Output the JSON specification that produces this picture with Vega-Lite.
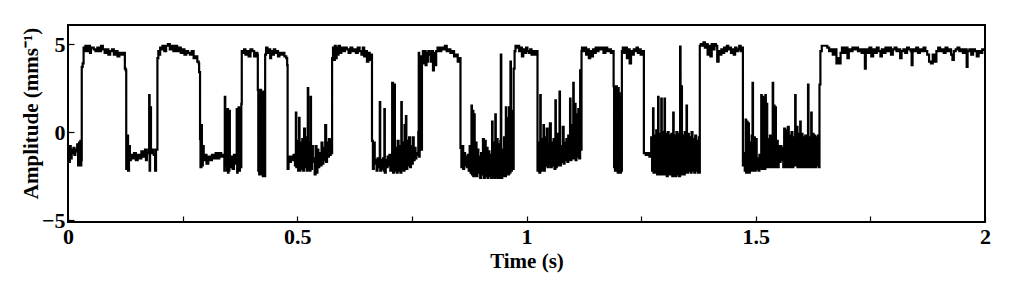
{
  "$schema": "https://vega.github.io/schema/vega-lite/v6.json",
  "width": 917,
  "height": 197,
  "autosize": "none",
  "padding": {"left": 68, "top": 25, "right": 39, "bottom": 59},
  "background": "white",
  "config": {
    "view": {"stroke": "black", "strokeWidth": 2},
    "axis": {
      "labelFont": "Liberation Serif", "labelFontWeight": "bold", "labelFontSize": 22, "labelColor": "black",
      "titleFont": "Liberation Serif", "titleFontWeight": "bold", "titleFontSize": 21, "titleColor": "black",
      "tickColor": "black", "tickWidth": 1.2, "domain": false, "grid": false
    }
  },
  "data": {"values": [
    {"t":0.000,"a":-0.9},{"t":0.002,"a":-1.7},{"t":0.004,"a":-0.8},{"t":0.006,"a":-1.5},{"t":0.008,"a":-1.0},{"t":0.010,"a":-1.2},{"t":0.012,"a":-0.9},{"t":0.014,"a":-1.3},{"t":0.016,"a":-1.0},{"t":0.018,"a":-1.1},{"t":0.020,"a":-0.7},{"t":0.022,"a":-1.9},{"t":0.024,"a":-0.6},{"t":0.026,"a":-1.1},{"t":0.027,"a":-0.5},{"t":0.028,"a":-1.9},{"t":0.029,"a":-1.6},
    {"t":0.030,"a":3.7},{"t":0.032,"a":3.9},{"t":0.034,"a":4.8},{"t":0.036,"a":4.6},{"t":0.038,"a":4.9},{"t":0.042,"a":4.6},{"t":0.044,"a":4.9},{"t":0.048,"a":4.5},{"t":0.050,"a":4.8},{"t":0.056,"a":4.7},{"t":0.060,"a":4.6},{"t":0.064,"a":4.8},{"t":0.068,"a":4.6},{"t":0.072,"a":4.9},{"t":0.076,"a":4.7},{"t":0.080,"a":4.5},{"t":0.084,"a":4.7},{"t":0.088,"a":4.4},{"t":0.092,"a":4.6},{"t":0.096,"a":4.7},{"t":0.100,"a":4.4},{"t":0.104,"a":4.6},{"t":0.108,"a":4.3},{"t":0.112,"a":4.5},{"t":0.116,"a":4.4},{"t":0.120,"a":4.5},{"t":0.124,"a":3.6},{"t":0.126,"a":3.5},
    {"t":0.127,"a":-2.1},{"t":0.129,"a":-0.2},{"t":0.131,"a":-2.2},{"t":0.133,"a":-0.8},{"t":0.135,"a":-1.6},{"t":0.137,"a":-1.3},{"t":0.140,"a":-1.5},{"t":0.144,"a":-1.2},{"t":0.148,"a":-1.6},{"t":0.152,"a":-1.3},{"t":0.156,"a":-1.5},{"t":0.160,"a":-1.1},{"t":0.164,"a":-1.4},{"t":0.168,"a":-1.0},{"t":0.170,"a":-1.6},{"t":0.172,"a":-1.2},{"t":0.175,"a":-1.0},{"t":0.177,"a":2.1},{"t":0.178,"a":-2.2},{"t":0.179,"a":1.4},{"t":0.181,"a":-1.2},{"t":0.184,"a":-1.0},{"t":0.187,"a":-1.3},{"t":0.190,"a":-2.2},{"t":0.192,"a":-1.0},
    {"t":0.195,"a":4.2},{"t":0.197,"a":4.6},{"t":0.199,"a":4.4},{"t":0.201,"a":4.8},{"t":0.203,"a":4.7},{"t":0.206,"a":4.9},{"t":0.210,"a":4.6},{"t":0.214,"a":4.9},{"t":0.218,"a":5.0},{"t":0.222,"a":4.7},{"t":0.226,"a":4.9},{"t":0.230,"a":4.6},{"t":0.234,"a":4.9},{"t":0.238,"a":4.6},{"t":0.242,"a":4.8},{"t":0.246,"a":4.5},{"t":0.250,"a":4.7},{"t":0.254,"a":4.4},{"t":0.258,"a":4.6},{"t":0.262,"a":4.5},{"t":0.266,"a":4.4},{"t":0.270,"a":4.6},{"t":0.274,"a":4.2},{"t":0.278,"a":4.3},{"t":0.282,"a":4.0},{"t":0.285,"a":3.9},{"t":0.286,"a":3.4},
    {"t":0.288,"a":-0.4},{"t":0.289,"a":-2.0},{"t":0.291,"a":0.4},{"t":0.292,"a":-1.9},{"t":0.294,"a":-0.8},{"t":0.296,"a":-1.6},{"t":0.298,"a":-1.3},{"t":0.302,"a":-1.8},{"t":0.306,"a":-1.4},{"t":0.310,"a":-1.6},{"t":0.314,"a":-1.3},{"t":0.318,"a":-1.5},{"t":0.322,"a":-1.2},{"t":0.326,"a":-1.5},{"t":0.330,"a":-1.2},{"t":0.334,"a":-1.4},{"t":0.338,"a":-1.3},{"t":0.341,"a":-2.2},{"t":0.342,"a":2.0},{"t":0.343,"a":-1.9},{"t":0.346,"a":1.2},{"t":0.347,"a":-2.2},{"t":0.348,"a":1.3},{"t":0.349,"a":-2.3},{"t":0.350,"a":1.0},{"t":0.351,"a":-2.2},{"t":0.352,"a":1.2},{"t":0.353,"a":-2.0},{"t":0.356,"a":-1.4},{"t":0.359,"a":-2.1},{"t":0.362,"a":-1.3},{"t":0.365,"a":-1.8},{"t":0.368,"a":1.3},{"t":0.369,"a":-2.3},{"t":0.370,"a":1.0},{"t":0.371,"a":-2.2},{"t":0.372,"a":1.4},{"t":0.373,"a":-2.2},{"t":0.375,"a":1.3},{"t":0.376,"a":-2.0},{"t":0.378,"a":1.6},
    {"t":0.379,"a":4.6},{"t":0.381,"a":4.5},{"t":0.384,"a":4.7},{"t":0.387,"a":4.4},{"t":0.390,"a":4.6},{"t":0.394,"a":4.3},{"t":0.398,"a":4.7},{"t":0.402,"a":4.6},{"t":0.406,"a":4.3},{"t":0.410,"a":4.5},{"t":0.413,"a":4.4},
    {"t":0.414,"a":2.4},{"t":0.415,"a":-2.2},{"t":0.416,"a":2.3},{"t":0.417,"a":-2.4},{"t":0.418,"a":2.2},{"t":0.419,"a":-2.3},{"t":0.420,"a":2.4},{"t":0.421,"a":-2.2},{"t":0.422,"a":2.2},{"t":0.423,"a":-2.4},{"t":0.424,"a":2.0},{"t":0.425,"a":-2.5},{"t":0.426,"a":2.3},{"t":0.427,"a":-2.4},{"t":0.428,"a":1.5},{"t":0.429,"a":-2.5},
    {"t":0.430,"a":4.4},{"t":0.432,"a":4.8},{"t":0.435,"a":4.5},{"t":0.438,"a":4.7},{"t":0.441,"a":4.2},{"t":0.443,"a":4.6},{"t":0.446,"a":4.4},{"t":0.449,"a":4.7},{"t":0.452,"a":4.5},{"t":0.455,"a":4.6},{"t":0.458,"a":4.3},{"t":0.461,"a":4.5},{"t":0.464,"a":4.4},{"t":0.468,"a":4.5},{"t":0.472,"a":4.3},{"t":0.476,"a":4.2},{"t":0.478,"a":3.8},
    {"t":0.479,"a":-2.1},{"t":0.481,"a":-1.4},{"t":0.483,"a":-1.7},{"t":0.486,"a":-1.4},{"t":0.489,"a":-1.6},{"t":0.492,"a":-1.3},{"t":0.495,"a":-1.9},{"t":0.497,"a":1.1},{"t":0.498,"a":-2.0},{"t":0.500,"a":-0.5},{"t":0.502,"a":-2.2},{"t":0.504,"a":0.8},{"t":0.505,"a":-2.2},{"t":0.507,"a":-0.6},{"t":0.509,"a":-2.1},{"t":0.511,"a":-0.4},{"t":0.513,"a":-2.2},{"t":0.515,"a":0.2},{"t":0.517,"a":-2.0},{"t":0.519,"a":-0.3},{"t":0.521,"a":-2.2},{"t":0.523,"a":2.5},{"t":0.524,"a":-2.1},{"t":0.526,"a":-0.6},{"t":0.528,"a":-2.2},{"t":0.529,"a":2.0},{"t":0.530,"a":-2.1},{"t":0.532,"a":-0.8},{"t":0.534,"a":-1.7},{"t":0.536,"a":-1.5},{"t":0.538,"a":-2.4},{"t":0.540,"a":-0.8},{"t":0.542,"a":-2.3},{"t":0.544,"a":-1.0},{"t":0.546,"a":-2.0},{"t":0.548,"a":-1.2},{"t":0.550,"a":-1.9},{"t":0.553,"a":-0.6},{"t":0.555,"a":-1.8},{"t":0.557,"a":-0.9},{"t":0.559,"a":-1.6},{"t":0.561,"a":0.4},{"t":0.563,"a":-1.7},{"t":0.565,"a":-0.6},{"t":0.567,"a":-1.4},{"t":0.569,"a":-0.4},{"t":0.571,"a":-1.3},{"t":0.573,"a":-0.5},{"t":0.575,"a":-1.2},
    {"t":0.576,"a":4.2},{"t":0.578,"a":4.8},{"t":0.580,"a":4.1},{"t":0.582,"a":4.9},{"t":0.584,"a":4.2},{"t":0.586,"a":4.8},{"t":0.588,"a":4.4},{"t":0.590,"a":4.9},{"t":0.593,"a":4.5},{"t":0.596,"a":4.8},{"t":0.600,"a":4.6},{"t":0.604,"a":4.8},{"t":0.608,"a":4.7},{"t":0.612,"a":4.5},{"t":0.616,"a":4.8},{"t":0.620,"a":4.6},{"t":0.624,"a":4.7},{"t":0.628,"a":4.5},{"t":0.632,"a":4.8},{"t":0.636,"a":4.6},{"t":0.640,"a":4.4},{"t":0.643,"a":4.8},{"t":0.646,"a":4.3},{"t":0.649,"a":4.6},{"t":0.652,"a":4.0},{"t":0.655,"a":4.5},{"t":0.658,"a":4.1},{"t":0.661,"a":4.4},
    {"t":0.663,"a":-0.5},{"t":0.665,"a":-2.1},{"t":0.667,"a":-0.6},{"t":0.669,"a":-1.8},{"t":0.671,"a":-1.6},{"t":0.673,"a":-2.2},{"t":0.675,"a":-1.5},{"t":0.677,"a":-2.0},{"t":0.679,"a":-1.7},{"t":0.680,"a":1.7},{"t":0.681,"a":-2.2},{"t":0.683,"a":-1.6},{"t":0.685,"a":-2.1},{"t":0.687,"a":-1.5},{"t":0.689,"a":-2.2},{"t":0.690,"a":1.3},{"t":0.691,"a":-2.3},{"t":0.693,"a":-1.6},{"t":0.695,"a":-2.0},{"t":0.697,"a":-1.4},{"t":0.699,"a":-1.9},{"t":0.701,"a":-1.3},{"t":0.703,"a":-2.2},{"t":0.705,"a":-1.5},{"t":0.707,"a":2.8},{"t":0.709,"a":-2.3},{"t":0.711,"a":2.7},{"t":0.713,"a":-2.2},{"t":0.715,"a":-0.9},{"t":0.717,"a":-2.3},{"t":0.719,"a":-0.5},{"t":0.721,"a":-2.2},{"t":0.723,"a":-0.8},{"t":0.725,"a":-2.3},{"t":0.727,"a":1.7},{"t":0.728,"a":-2.1},{"t":0.730,"a":-0.6},{"t":0.732,"a":-2.2},{"t":0.734,"a":0.4},{"t":0.735,"a":-2.0},{"t":0.737,"a":0.9},{"t":0.738,"a":-2.1},{"t":0.740,"a":-0.5},{"t":0.742,"a":-1.9},{"t":0.744,"a":-0.3},{"t":0.746,"a":-2.0},{"t":0.748,"a":-0.8},{"t":0.750,"a":-1.8},{"t":0.752,"a":-0.3},{"t":0.754,"a":-1.6},{"t":0.756,"a":-0.9},{"t":0.758,"a":-1.5},{"t":0.760,"a":-1.2},{"t":0.762,"a":-1.3},{"t":0.764,"a":0.0},{"t":0.765,"a":4.5},{"t":0.766,"a":-1.4},{"t":0.767,"a":-0.3},{"t":0.768,"a":-1.0},{"t":0.769,"a":4.3},{"t":0.770,"a":-1.0},
    {"t":0.772,"a":4.2},{"t":0.774,"a":4.6},{"t":0.776,"a":3.9},{"t":0.778,"a":4.6},{"t":0.780,"a":3.8},{"t":0.782,"a":4.5},{"t":0.784,"a":4.0},{"t":0.786,"a":4.6},{"t":0.789,"a":4.4},{"t":0.792,"a":4.0},{"t":0.794,"a":4.6},{"t":0.796,"a":3.5},{"t":0.798,"a":4.5},{"t":0.800,"a":3.8},{"t":0.803,"a":4.6},{"t":0.806,"a":4.8},{"t":0.810,"a":4.6},{"t":0.814,"a":4.8},{"t":0.818,"a":4.7},{"t":0.822,"a":4.9},{"t":0.826,"a":4.6},{"t":0.830,"a":4.7},{"t":0.834,"a":4.5},{"t":0.838,"a":4.6},{"t":0.842,"a":4.3},{"t":0.846,"a":4.4},{"t":0.850,"a":4.0},{"t":0.853,"a":4.2},
    {"t":0.856,"a":-0.9},{"t":0.858,"a":-2.0},{"t":0.860,"a":-0.8},{"t":0.862,"a":-2.1},{"t":0.864,"a":-1.2},{"t":0.866,"a":-1.9},{"t":0.868,"a":-1.4},{"t":0.870,"a":-2.0},{"t":0.872,"a":-1.3},{"t":0.874,"a":-2.2},{"t":0.876,"a":-0.8},{"t":0.878,"a":-2.3},{"t":0.880,"a":1.5},{"t":0.881,"a":-2.4},{"t":0.883,"a":1.2},{"t":0.884,"a":-2.5},{"t":0.886,"a":1.0},{"t":0.887,"a":-2.4},{"t":0.889,"a":-0.6},{"t":0.891,"a":-2.5},{"t":0.893,"a":-1.0},{"t":0.895,"a":-2.3},{"t":0.897,"a":-1.4},{"t":0.899,"a":-2.6},{"t":0.901,"a":-1.2},{"t":0.903,"a":-2.4},{"t":0.905,"a":-0.4},{"t":0.907,"a":-2.6},{"t":0.909,"a":-0.5},{"t":0.911,"a":-2.5},{"t":0.913,"a":-0.9},{"t":0.915,"a":-2.6},{"t":0.917,"a":-1.1},{"t":0.919,"a":-2.5},{"t":0.921,"a":-1.3},{"t":0.923,"a":-2.6},{"t":0.925,"a":0.6},{"t":0.926,"a":-2.5},{"t":0.928,"a":-0.6},{"t":0.930,"a":-2.6},{"t":0.932,"a":1.0},{"t":0.933,"a":-2.5},{"t":0.935,"a":-0.4},{"t":0.937,"a":-2.6},{"t":0.939,"a":-0.7},{"t":0.941,"a":-2.6},{"t":0.943,"a":-0.5},{"t":0.944,"a":4.4},{"t":0.945,"a":-2.6},{"t":0.947,"a":-1.0},{"t":0.949,"a":-2.5},{"t":0.951,"a":-0.3},{"t":0.953,"a":-2.5},{"t":0.955,"a":1.4},{"t":0.956,"a":-2.4},{"t":0.958,"a":0.8},{"t":0.960,"a":-2.4},{"t":0.962,"a":1.4},{"t":0.963,"a":-2.3},{"t":0.965,"a":4.0},{"t":0.966,"a":-2.2},{"t":0.968,"a":1.2},{"t":0.970,"a":-2.1},{"t":0.972,"a":3.6},
    {"t":0.974,"a":4.6},{"t":0.976,"a":4.9},{"t":0.978,"a":4.8},{"t":0.981,"a":4.9},{"t":0.984,"a":4.6},{"t":0.987,"a":4.8},{"t":0.990,"a":4.3},{"t":0.993,"a":4.7},{"t":0.996,"a":4.5},{"t":0.999,"a":4.8},{"t":1.002,"a":4.6},{"t":1.005,"a":4.5},{"t":1.008,"a":4.7},{"t":1.011,"a":4.4},{"t":1.014,"a":4.6},{"t":1.018,"a":4.4},{"t":1.021,"a":4.6},
    {"t":1.024,"a":-2.2},{"t":1.026,"a":-0.6},{"t":1.028,"a":-2.3},{"t":1.030,"a":2.1},{"t":1.031,"a":-2.2},{"t":1.033,"a":-0.4},{"t":1.035,"a":-2.1},{"t":1.037,"a":0.4},{"t":1.038,"a":-2.2},{"t":1.040,"a":-0.3},{"t":1.042,"a":-1.9},{"t":1.044,"a":0.2},{"t":1.046,"a":-2.0},{"t":1.048,"a":-0.7},{"t":1.050,"a":-1.8},{"t":1.051,"a":0.5},{"t":1.053,"a":-2.0},{"t":1.055,"a":-0.6},{"t":1.057,"a":-1.9},{"t":1.059,"a":-0.4},{"t":1.061,"a":-2.1},{"t":1.063,"a":1.8},{"t":1.064,"a":-2.0},{"t":1.066,"a":-0.1},{"t":1.068,"a":-1.9},{"t":1.070,"a":-0.4},{"t":1.072,"a":2.3},{"t":1.073,"a":-1.9},{"t":1.075,"a":-0.8},{"t":1.077,"a":-1.7},{"t":1.079,"a":0.3},{"t":1.081,"a":-1.8},{"t":1.083,"a":-0.6},{"t":1.085,"a":-1.6},{"t":1.087,"a":-0.4},{"t":1.089,"a":-1.7},{"t":1.091,"a":-0.2},{"t":1.093,"a":-1.6},{"t":1.095,"a":1.9},{"t":1.096,"a":-1.6},{"t":1.098,"a":0.4},{"t":1.100,"a":-1.5},{"t":1.102,"a":2.8},{"t":1.103,"a":-1.5},{"t":1.105,"a":1.6},{"t":1.107,"a":-1.6},{"t":1.109,"a":1.0},{"t":1.111,"a":-1.4},{"t":1.113,"a":1.3},{"t":1.115,"a":-1.5},{"t":1.117,"a":3.5},{"t":1.118,"a":-1.0},
    {"t":1.120,"a":4.6},{"t":1.121,"a":4.8},{"t":1.124,"a":4.6},{"t":1.127,"a":4.8},{"t":1.130,"a":4.4},{"t":1.133,"a":4.7},{"t":1.136,"a":4.2},{"t":1.139,"a":4.6},{"t":1.142,"a":4.3},{"t":1.145,"a":4.7},{"t":1.148,"a":4.5},{"t":1.151,"a":4.8},{"t":1.154,"a":4.6},{"t":1.157,"a":4.8},{"t":1.160,"a":4.7},{"t":1.164,"a":4.8},{"t":1.168,"a":4.5},{"t":1.172,"a":4.8},{"t":1.176,"a":4.6},{"t":1.180,"a":4.7},{"t":1.184,"a":4.5},{"t":1.188,"a":4.6},
    {"t":1.190,"a":2.6},{"t":1.191,"a":-2.0},{"t":1.192,"a":2.6},{"t":1.193,"a":-2.2},{"t":1.194,"a":2.5},{"t":1.195,"a":-2.1},{"t":1.196,"a":2.6},{"t":1.197,"a":-2.2},{"t":1.198,"a":2.4},{"t":1.199,"a":-2.3},{"t":1.200,"a":2.5},{"t":1.201,"a":-2.3},{"t":1.202,"a":2.2},{"t":1.203,"a":-2.3},{"t":1.204,"a":2.0},{"t":1.205,"a":-2.3},{"t":1.206,"a":1.8},{"t":1.207,"a":-2.2},
    {"t":1.208,"a":4.6},{"t":1.210,"a":4.8},{"t":1.213,"a":4.5},{"t":1.216,"a":4.8},{"t":1.219,"a":4.2},{"t":1.222,"a":4.7},{"t":1.225,"a":3.9},{"t":1.228,"a":4.6},{"t":1.231,"a":4.4},{"t":1.234,"a":4.7},{"t":1.237,"a":4.6},{"t":1.240,"a":4.8},{"t":1.243,"a":4.5},{"t":1.246,"a":4.7},{"t":1.249,"a":4.4},{"t":1.252,"a":4.6},
    {"t":1.256,"a":-1.2},{"t":1.260,"a":-1.3},{"t":1.264,"a":-1.2},{"t":1.268,"a":-1.4},{"t":1.270,"a":-1.2},{"t":1.272,"a":-0.3},{"t":1.274,"a":-2.2},{"t":1.276,"a":1.35},{"t":1.277,"a":-2.3},{"t":1.279,"a":-0.2},{"t":1.281,"a":-2.3},{"t":1.283,"a":0.1},{"t":1.285,"a":-2.4},{"t":1.287,"a":2.0},{"t":1.288,"a":-2.4},{"t":1.290,"a":-0.1},{"t":1.292,"a":-2.4},{"t":1.294,"a":1.9},{"t":1.295,"a":-2.4},{"t":1.297,"a":0.0},{"t":1.299,"a":-2.4},{"t":1.301,"a":1.9},{"t":1.302,"a":-2.4},{"t":1.304,"a":-0.1},{"t":1.306,"a":-2.5},{"t":1.308,"a":0.0},{"t":1.310,"a":-2.4},{"t":1.312,"a":-0.2},{"t":1.314,"a":-2.4},{"t":1.316,"a":-0.1},{"t":1.318,"a":-2.5},{"t":1.320,"a":1.1},{"t":1.321,"a":-2.4},{"t":1.323,"a":-0.2},{"t":1.325,"a":-2.5},{"t":1.327,"a":0.0},{"t":1.329,"a":-2.4},{"t":1.331,"a":-0.1},{"t":1.333,"a":-2.5},{"t":1.335,"a":4.85},{"t":1.336,"a":-2.4},{"t":1.338,"a":2.6},{"t":1.339,"a":-2.3},{"t":1.341,"a":-0.2},{"t":1.343,"a":-2.4},{"t":1.345,"a":0.0},{"t":1.347,"a":-2.3},{"t":1.349,"a":1.5},{"t":1.350,"a":-2.3},{"t":1.352,"a":-0.1},{"t":1.354,"a":-2.2},{"t":1.356,"a":-0.3},{"t":1.358,"a":-2.3},{"t":1.360,"a":0.0},{"t":1.362,"a":-2.2},{"t":1.364,"a":-0.4},{"t":1.366,"a":-2.3},{"t":1.368,"a":-0.2},{"t":1.370,"a":-2.2},{"t":1.372,"a":-0.5},{"t":1.374,"a":-2.3},{"t":1.376,"a":-0.3},{"t":1.377,"a":-2.3},
    {"t":1.378,"a":4.9},{"t":1.380,"a":5.0},{"t":1.383,"a":4.9},{"t":1.386,"a":5.1},{"t":1.389,"a":4.8},{"t":1.392,"a":5.0},{"t":1.395,"a":4.4},{"t":1.398,"a":4.9},{"t":1.401,"a":4.3},{"t":1.404,"a":5.0},{"t":1.407,"a":4.7},{"t":1.410,"a":5.0},{"t":1.413,"a":4.9},{"t":1.416,"a":4.0},{"t":1.419,"a":4.6},{"t":1.422,"a":4.4},{"t":1.425,"a":4.7},{"t":1.428,"a":4.5},{"t":1.431,"a":4.8},{"t":1.434,"a":4.6},{"t":1.437,"a":4.9},{"t":1.440,"a":4.7},{"t":1.443,"a":4.8},{"t":1.446,"a":4.5},{"t":1.449,"a":4.7},{"t":1.452,"a":4.4},{"t":1.455,"a":4.8},{"t":1.458,"a":4.6},{"t":1.461,"a":4.7},{"t":1.464,"a":4.9},{"t":1.467,"a":4.6},{"t":1.470,"a":4.8},
    {"t":1.472,"a":-1.9},{"t":1.474,"a":-1.2},{"t":1.476,"a":-2.2},{"t":1.478,"a":0.7},{"t":1.479,"a":-2.3},{"t":1.481,"a":0.6},{"t":1.482,"a":-2.3},{"t":1.484,"a":0.5},{"t":1.485,"a":-2.3},{"t":1.487,"a":-0.6},{"t":1.489,"a":-2.2},{"t":1.491,"a":-0.2},{"t":1.493,"a":2.8},{"t":1.494,"a":-2.2},{"t":1.496,"a":-0.3},{"t":1.498,"a":-2.2},{"t":1.500,"a":-0.4},{"t":1.502,"a":-2.1},{"t":1.504,"a":-1.5},{"t":1.506,"a":-2.2},{"t":1.508,"a":-1.3},{"t":1.510,"a":-2.0},{"t":1.512,"a":2.1},{"t":1.513,"a":-2.1},{"t":1.515,"a":2.0},{"t":1.516,"a":-2.1},{"t":1.518,"a":1.9},{"t":1.519,"a":-2.1},{"t":1.521,"a":2.1},{"t":1.522,"a":-2.0},{"t":1.524,"a":1.6},{"t":1.525,"a":-2.0},{"t":1.527,"a":-0.4},{"t":1.529,"a":-2.0},{"t":1.531,"a":-0.2},{"t":1.533,"a":-2.0},{"t":1.535,"a":-0.5},{"t":1.537,"a":2.8},{"t":1.538,"a":-2.0},{"t":1.540,"a":1.5},{"t":1.541,"a":-2.0},{"t":1.543,"a":1.4},{"t":1.544,"a":-2.0},{"t":1.546,"a":-0.5},{"t":1.548,"a":-2.0},{"t":1.550,"a":-0.8},{"t":1.552,"a":-1.7},{"t":1.554,"a":-0.8},{"t":1.556,"a":-1.6},{"t":1.558,"a":-0.9},{"t":1.560,"a":-2.0},{"t":1.562,"a":0.2},{"t":1.564,"a":-2.0},{"t":1.566,"a":0.1},{"t":1.568,"a":-2.0},{"t":1.570,"a":0.3},{"t":1.572,"a":-2.0},{"t":1.574,"a":-0.2},{"t":1.576,"a":-2.0},{"t":1.578,"a":0.0},{"t":1.580,"a":-2.0},{"t":1.582,"a":-0.3},{"t":1.584,"a":-1.9},{"t":1.586,"a":2.1},{"t":1.587,"a":-1.9},{"t":1.589,"a":0.3},{"t":1.591,"a":-2.0},{"t":1.593,"a":-0.1},{"t":1.595,"a":-2.0},{"t":1.597,"a":0.6},{"t":1.598,"a":-2.0},{"t":1.600,"a":-0.1},{"t":1.602,"a":-2.0},{"t":1.604,"a":-0.3},{"t":1.606,"a":-2.0},{"t":1.608,"a":-0.2},{"t":1.610,"a":-2.0},{"t":1.612,"a":-0.4},{"t":1.614,"a":2.7},{"t":1.615,"a":-2.0},{"t":1.617,"a":-0.3},{"t":1.619,"a":-2.0},{"t":1.621,"a":1.1},{"t":1.622,"a":-2.0},{"t":1.624,"a":-0.1},{"t":1.626,"a":-2.0},{"t":1.628,"a":-0.2},{"t":1.630,"a":-2.0},{"t":1.632,"a":-0.3},{"t":1.634,"a":-1.9},{"t":1.636,"a":-0.2},{"t":1.638,"a":-2.0},{"t":1.639,"a":2.7},
    {"t":1.641,"a":4.6},{"t":1.644,"a":4.9},{"t":1.650,"a":4.9},{"t":1.656,"a":4.8},{"t":1.660,"a":4.6},{"t":1.664,"a":4.7},{"t":1.668,"a":4.4},{"t":1.672,"a":4.7},{"t":1.676,"a":3.9},{"t":1.679,"a":4.2},{"t":1.682,"a":3.9},{"t":1.685,"a":4.5},{"t":1.688,"a":4.8},{"t":1.692,"a":4.5},{"t":1.696,"a":4.8},{"t":1.700,"a":4.2},{"t":1.703,"a":4.7},{"t":1.707,"a":4.6},{"t":1.711,"a":4.8},{"t":1.715,"a":4.7},{"t":1.719,"a":4.8},{"t":1.723,"a":4.6},{"t":1.727,"a":4.7},{"t":1.731,"a":4.5},{"t":1.735,"a":4.7},{"t":1.738,"a":3.6},{"t":1.740,"a":4.7},{"t":1.744,"a":4.5},{"t":1.748,"a":4.8},{"t":1.752,"a":4.3},{"t":1.756,"a":4.7},{"t":1.760,"a":4.5},{"t":1.764,"a":4.8},{"t":1.768,"a":4.6},{"t":1.772,"a":4.3},{"t":1.775,"a":4.7},{"t":1.779,"a":4.5},{"t":1.783,"a":4.8},{"t":1.787,"a":4.6},{"t":1.791,"a":4.8},{"t":1.795,"a":4.4},{"t":1.799,"a":4.7},{"t":1.803,"a":4.8},{"t":1.807,"a":4.6},{"t":1.811,"a":4.7},{"t":1.815,"a":4.2},{"t":1.818,"a":4.6},{"t":1.822,"a":4.7},{"t":1.826,"a":4.5},{"t":1.830,"a":4.8},{"t":1.834,"a":4.7},{"t":1.838,"a":4.6},{"t":1.840,"a":3.8},{"t":1.842,"a":4.7},{"t":1.846,"a":4.6},{"t":1.850,"a":4.8},{"t":1.854,"a":4.5},{"t":1.858,"a":4.7},{"t":1.862,"a":4.6},{"t":1.866,"a":4.8},{"t":1.870,"a":4.6},{"t":1.874,"a":4.4},{"t":1.878,"a":4.0},{"t":1.882,"a":3.9},{"t":1.886,"a":4.4},{"t":1.890,"a":4.0},{"t":1.894,"a":4.6},{"t":1.898,"a":4.8},{"t":1.902,"a":4.6},{"t":1.906,"a":4.7},{"t":1.910,"a":4.5},{"t":1.914,"a":4.8},{"t":1.918,"a":4.6},{"t":1.922,"a":4.7},{"t":1.926,"a":4.4},{"t":1.929,"a":4.1},{"t":1.932,"a":4.6},{"t":1.936,"a":4.7},{"t":1.940,"a":4.8},{"t":1.944,"a":4.6},{"t":1.948,"a":4.7},{"t":1.952,"a":4.5},{"t":1.956,"a":4.7},{"t":1.960,"a":3.7},{"t":1.962,"a":4.6},{"t":1.966,"a":4.7},{"t":1.970,"a":4.4},{"t":1.974,"a":4.7},{"t":1.978,"a":4.6},{"t":1.982,"a":4.3},{"t":1.986,"a":4.6},{"t":1.990,"a":4.5},{"t":1.994,"a":4.7},{"t":1.998,"a":4.6}
  ]},
  "mark": {"type": "line", "interpolate": "step-after", "color": "black", "strokeWidth": 2.2, "clip": true},
  "encoding": {
    "x": {
      "field": "t", "type": "quantitative",
      "scale": {"domain": [0, 2], "nice": false},
      "axis": {
        "title": "Time (s)",
        "values": [0, 0.25, 0.5, 0.75, 1, 1.25, 1.5, 1.75, 2],
        "format": "~g",
        "labelExpr": "datum.value % 0.5 === 0 ? datum.label : ''",
        "tickSize": -6,
        "labelPadding": 10,
        "titlePadding": 3,
        "labelFlush": false
      }
    },
    "y": {
      "field": "a", "type": "quantitative",
      "scale": {"domain": [-5.11, 6.08], "nice": false, "zero": false},
      "axis": {
        "title": "Amplitude (mms⁻¹)",
        "values": [-5, 0, 5],
        "tickSize": -6,
        "labelPadding": 9,
        "titlePadding": 0,
        "titleY": 88,
        "labelFlush": false
      }
    }
  }
}
